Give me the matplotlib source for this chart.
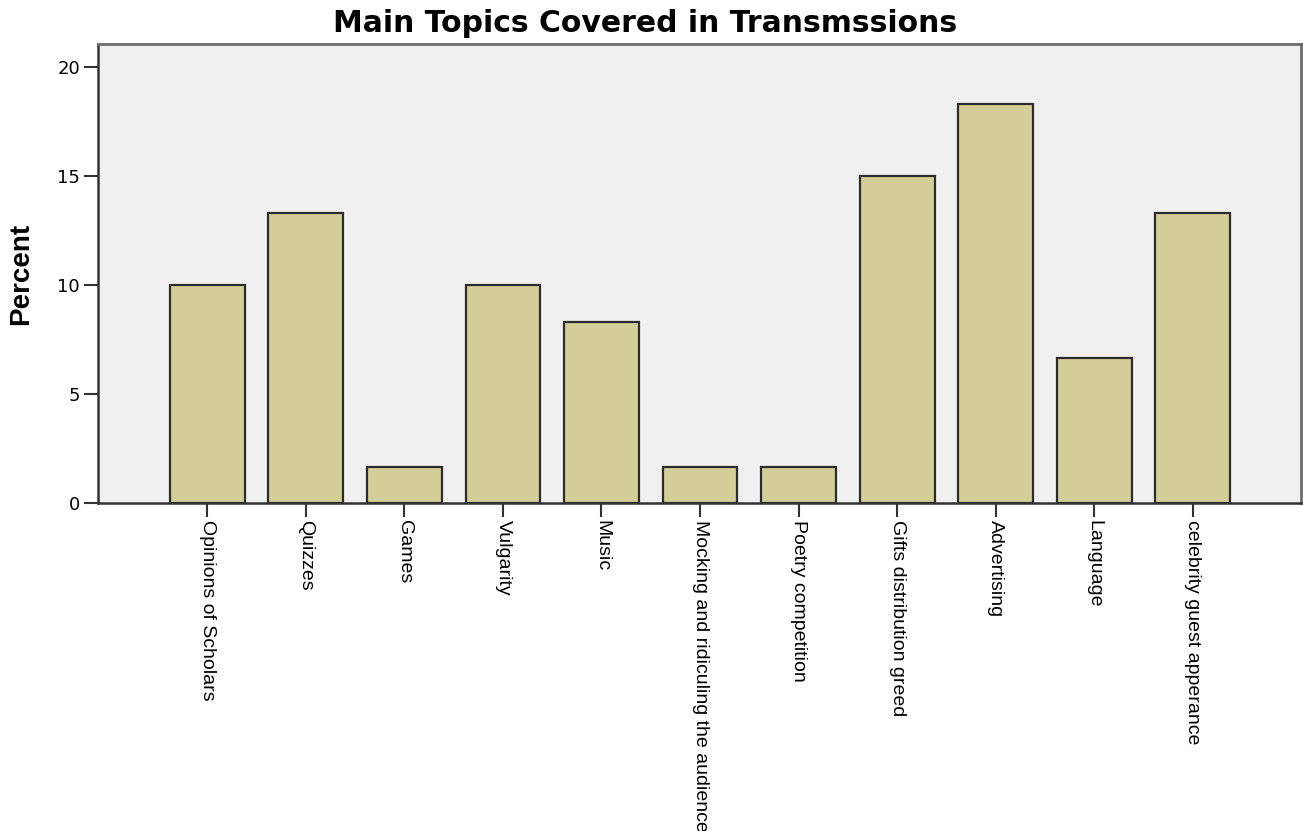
import numpy as np
import matplotlib
matplotlib.use('Agg')
import matplotlib.pyplot as plt

# data
topics = ['Opinions of Scholars', 'Quizzes', 'Games', 'Vulgarity', 'Music',
          'Mocking and ridiculing the audience', 'Poetry competition',
          'Gifts distribution greed', 'Advertising', 'Language',
          'celebrity guest apperance']
percent = [10.0, 13.33, 1.67, 10.0, 8.33, 1.67, 1.67, 15.0, 18.33, 6.67, 13.33]
yticks = [0, 5, 10, 15, 20]

# style
bar_color = '#D3CE98'
bg_color = '#F0F0F0'
edge_color = '#2b2b2b'

fig = plt.figure(figsize=(13.03, 8.31), dpi=100)
ax = fig.add_axes([0.0752, 0.3947, 0.9233, 0.5523])
ax.set_facecolor(bg_color)

x = np.arange(len(topics))
ax.bar(x, percent, width=0.76, color=bar_color, edgecolor=edge_color, linewidth=1.6, zorder=2)

ax.set_xlim(-1.11, len(topics) - 1 + 1.10)
ax.set_ylim(0, 21.07)

ax.set_yticks(yticks)
ax.set_yticklabels([str(v) for v in yticks], family='DejaVu Sans', fontsize=13)
ax.set_xticks(x)
ax.set_xticklabels(topics, rotation=270, va='top', ha='center',
                   family='Liberation Sans', fontsize=14)

ax.tick_params(axis='both', length=10, width=1.5, color='#333333', direction='out')
ax.tick_params(axis='y', pad=3)
ax.tick_params(axis='x', pad=2)

for side in ['left', 'bottom']:
    ax.spines[side].set_color('#333333')
    ax.spines[side].set_linewidth(1.8)
for side in ['top', 'right']:
    ax.spines[side].set_color('#6e6e6e')
    ax.spines[side].set_linewidth(2.0)

fig.text(0.016, 0.5 * (0.3947 + 0.947), 'Percent', rotation=90, ha='center', va='center',
         family='Liberation Sans', fontweight='bold', fontsize=20)
fig.text(0.495, 0.962, 'Main Topics Covered in Transmssions', ha='center', va='baseline',
         family='DejaVu Sans', fontweight='bold', fontsize=21.5)

plt.savefig('out.png', dpi=100)
